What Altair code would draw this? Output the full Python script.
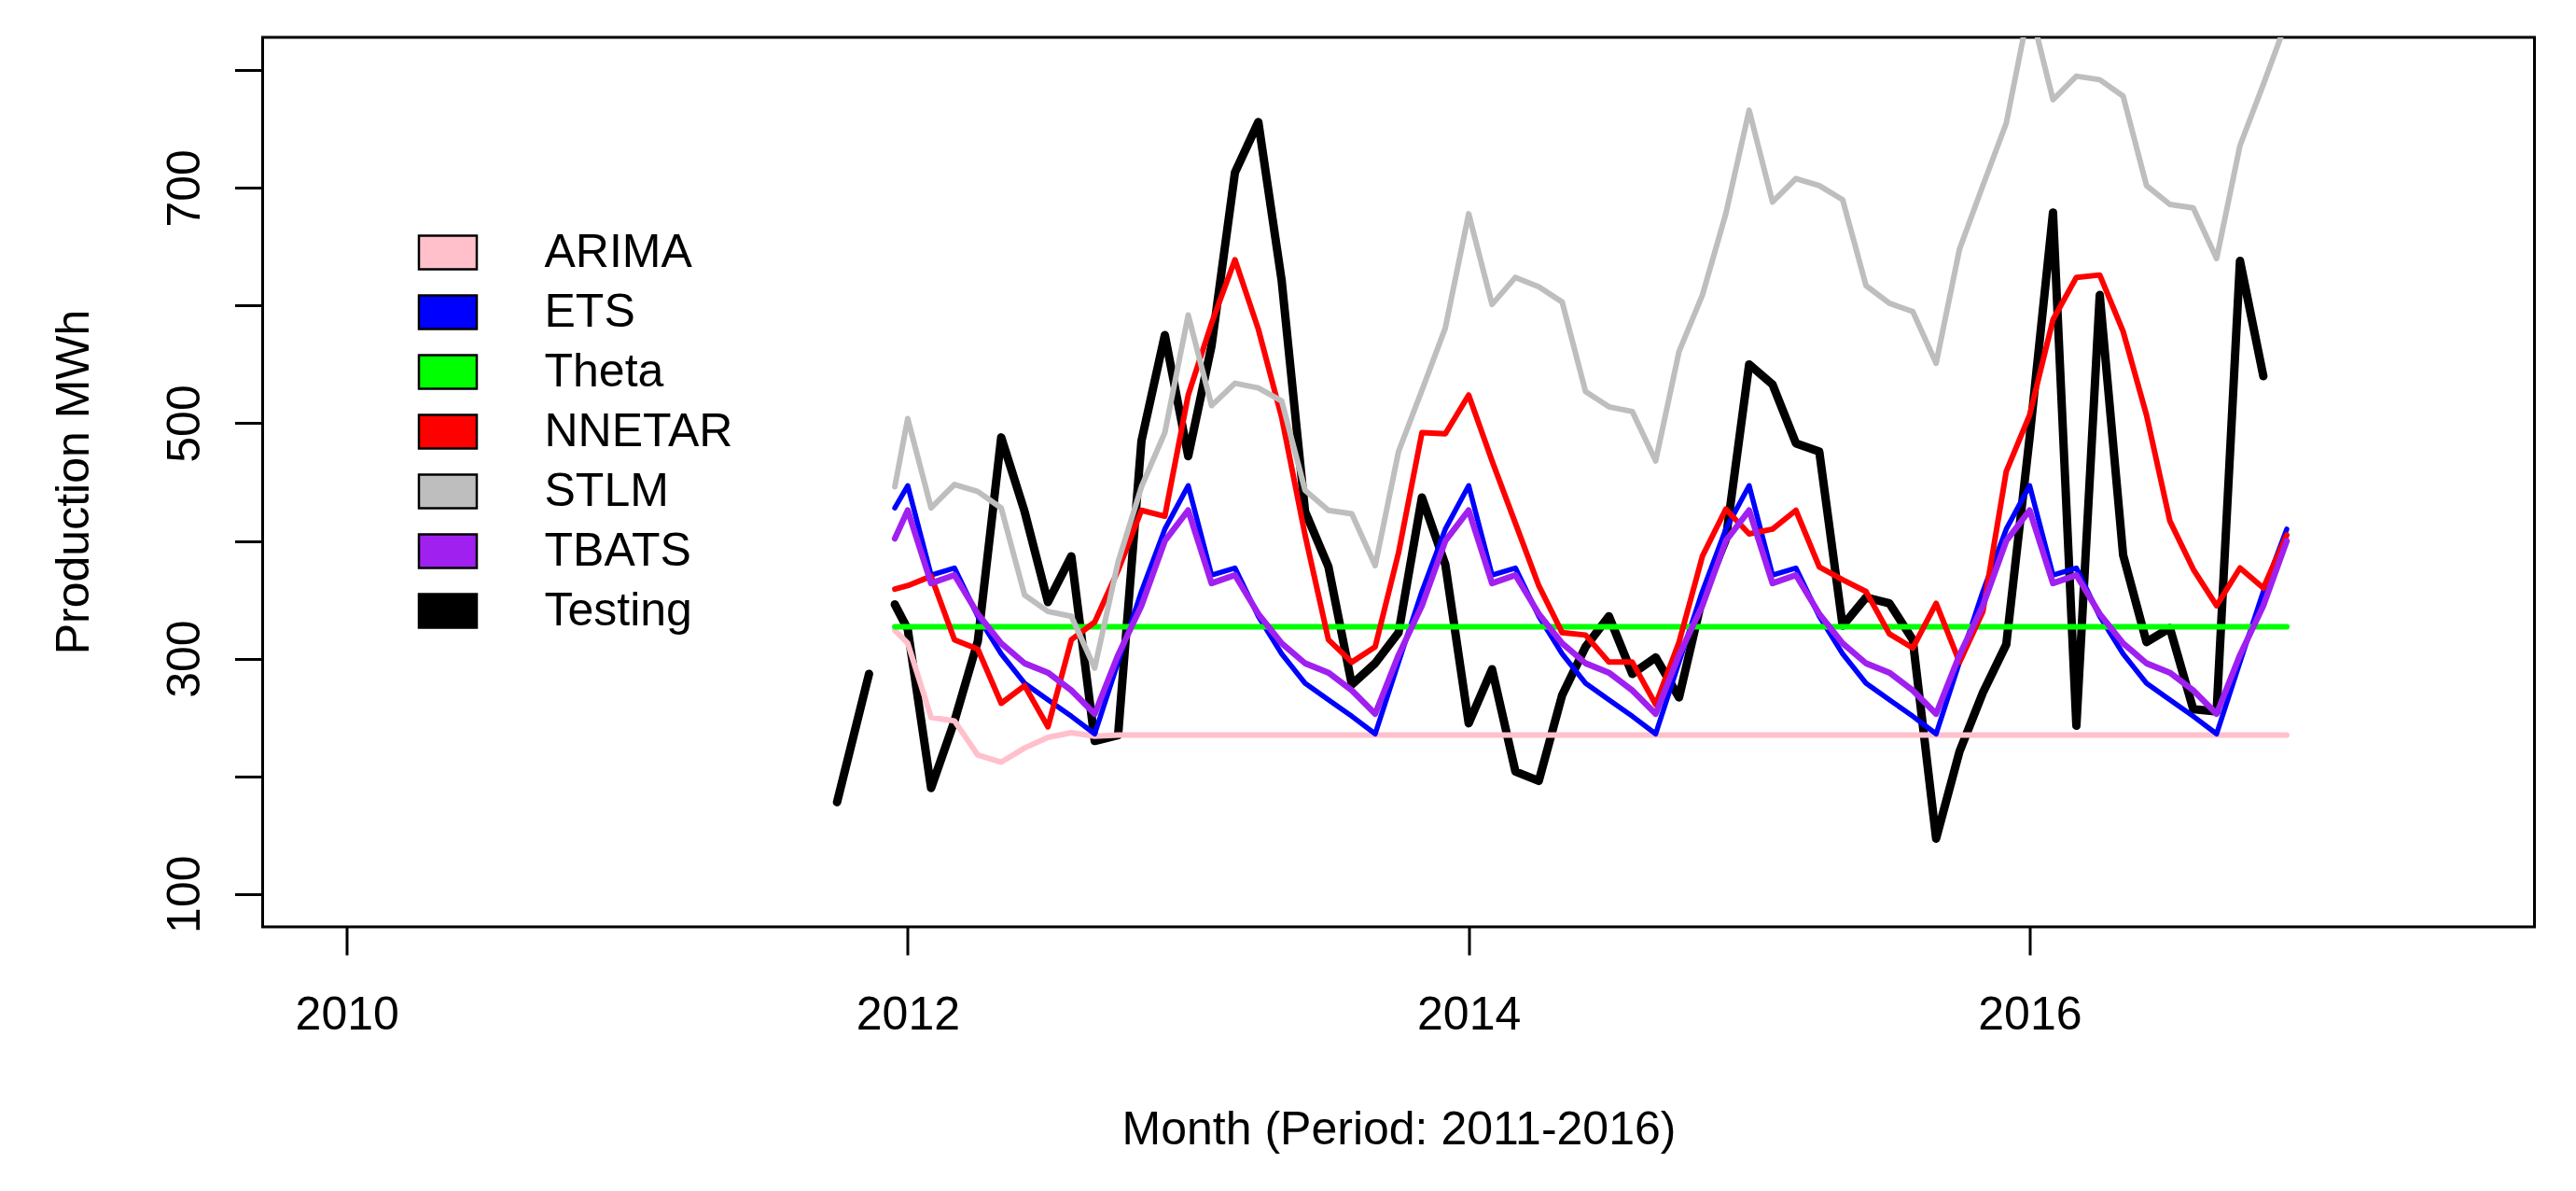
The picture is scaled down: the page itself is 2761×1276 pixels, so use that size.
import altair as alt
import pandas as pd

# ---------------- data ----------------
series_names = ["ARIMA", "ETS", "Theta", "NNETAR", "STLM", "TBATS", "Testing"]
series_colors = ["#FFC0CB", "#0000FF", "#00FF00", "#FF0000", "#BEBEBE", "#A020F0", "#000000"]

t_start = 2011.954          # where the forecast lines begin
t_end = 2016.917            # last forecast month (Dec 2016)

# Testing: short piece in late 2011, then monthly values from Jan 2012 to Nov 2016
testing_pre_t = [2011.748, 2011.862]
testing_pre_v = [178, 287]
testing_start_v = 346
testing_v = [325, 190, 247, 315, 488, 425, 348, 387, 230, 235, 485, 575,
             472, 566, 713, 756, 621, 425, 378, 278, 296, 322, 437, 380,
             245, 291, 204, 196, 269, 310, 336, 287, 301, 267, 352, 401,
             550, 533, 483, 476, 328, 352, 347, 316, 147, 221, 271, 312,
             488, 679, 243, 609, 388, 314, 326, 257, 255, 638, 540]

arima_start_v = 324
arima_v = [313, 250, 247, 218, 212, 224, 233, 237, 234, 235, 235, 235,
           235, 235, 235, 235, 235, 235, 235, 235, 235, 235, 235, 235,
           235, 235, 235, 235, 235, 235, 235, 235, 235, 235, 235, 235,
           235, 235, 235, 235, 235, 235, 235, 235, 235, 235, 235, 235,
           235, 235, 235, 235, 235, 235, 235, 235, 235, 235, 235, 235]

ets_start_v = 428
ets_v = [447, 371, 377, 336, 304, 279, 265, 251, 236, 297, 357, 410,
         447, 371, 377, 336, 304, 279, 265, 251, 236, 297, 357, 410,
         447, 371, 377, 336, 304, 279, 265, 251, 236, 297, 357, 410,
         447, 371, 377, 336, 304, 279, 265, 251, 236, 297, 357, 410,
         447, 371, 377, 336, 304, 279, 265, 251, 236, 297, 357, 410]

theta_t = [t_start, t_end]
theta_v = [327, 327]

nnetar_start_v = 359
nnetar_v = [362, 370, 316, 308, 262, 277, 242, 316, 331, 375, 426, 421,
            524, 585, 639, 580, 505, 405, 316, 297, 310, 390, 492, 491,
            524, 468, 415, 362, 322, 320, 297, 297, 261, 314, 387, 427,
            406, 410, 426, 378, 367, 357, 321, 309, 347, 297, 340, 459,
            507, 588, 624, 626, 578, 507, 417, 376, 345, 377, 360, 405]

stlm_start_v = 446
stlm_v = [504, 428, 448, 442, 428, 354, 340, 336, 292, 382, 446, 492,
          592, 515, 534, 530, 519, 443, 426, 423, 379, 476, 528, 581,
          678, 601, 624, 616, 603, 527, 514, 510, 468, 561, 609, 678,
          766, 688, 708, 702, 690, 617, 602, 595, 551, 648, 702, 755,
          855, 775, 795, 792, 778, 702, 686, 683, 640, 736, 788, 842]

tbats_start_v = 402
tbats_v = [426, 364, 371, 338, 313, 296, 288, 273, 253, 303, 345, 400,
           426, 364, 371, 338, 313, 296, 288, 273, 253, 303, 345, 400,
           426, 364, 371, 338, 313, 296, 288, 273, 253, 303, 345, 400,
           426, 364, 371, 338, 313, 296, 288, 273, 253, 303, 345, 400,
           426, 364, 371, 338, 313, 296, 288, 273, 253, 303, 345, 400]

x_ticks = [2010, 2012, 2014, 2016]
y_ticks = [100, 200, 300, 400, 500, 600, 700, 800]

# ---------------- build the long table ----------------
rows = []


def add(name, ts, vs, seg=0):
    for tt, vv in zip(ts, vs):
        rows.append({"series": name, "key": name, "t": tt, "v": vv, "seg": seg})


def monthly(start_v, vals):
    ts = [t_start] + [2012 + m / 12 for m in range(len(vals))]
    return ts, [start_v] + vals


add("Testing", testing_pre_t, testing_pre_v, seg=0)
add("Testing", *monthly(testing_start_v, testing_v), seg=1)
add("ARIMA", *monthly(arima_start_v, arima_v))
add("ETS", *monthly(ets_start_v, ets_v))
add("Theta", theta_t, theta_v)
add("NNETAR", *monthly(nnetar_start_v, nnetar_v))
add("STLM", *monthly(stlm_start_v, stlm_v))
add("TBATS", *monthly(tbats_start_v, tbats_v))
df = pd.DataFrame(rows)

FONT = "Liberation Sans, Arial, sans-serif"

x_enc = alt.X("t:Q",
              scale=alt.Scale(domain=[2009.7, 2017.8], nice=False, zero=False),
              axis=alt.Axis(values=x_ticks, format="d", title="Month (Period: 2011-2016)",
                            labelBaseline="alphabetic", labelPadding=79,
                            titleY=232, titleBaseline="alphabetic"))
y_enc = alt.Y("v:Q",
              scale=alt.Scale(domain=[72, 828], nice=False, zero=False),
              axis=alt.Axis(values=y_ticks, title="Production MWh",
                            labelExpr="datum.value % 200 == 100 ? datum.label : ''",
                            labelAngle=-90, labelAlign="center", labelBaseline="alphabetic",
                            labelPadding=38,
                            titleAngle=-90, titleAlign="center", titleBaseline="alphabetic",
                            titleX=-187, titleY=476))

rect_path = "M-1,-0.58L1,-0.58L1,0.58L-1,0.58Z"
legend = alt.Legend(orient="none", legendX=166, legendY=198, title=None,
                    symbolType=rect_path, symbolSize=3844,
                    symbolStrokeColor="black", symbolStrokeWidth=2.5, symbolOpacity=1,
                    labelFont=FONT, labelFontSize=50, labelColor="black", labelOffset=71,
                    labelLimit=0, rowPadding=6, padding=0)

widths = {"ARIMA": 6, "ETS": 5.5, "Theta": 6, "NNETAR": 6, "STLM": 6, "TBATS": 6.5, "Testing": 9}
# R draws the test series first, then each forecast on top of it
draw_order = ["Testing", "ARIMA", "ETS", "Theta", "NNETAR", "STLM", "TBATS"]

layers = []
for name in draw_order:
    layers.append(
        alt.Chart(df)
        .transform_filter(alt.datum.series == name)
        .mark_line(strokeWidth=widths[name], clip=True, strokeCap="round", strokeJoin="round")
        .encode(x=x_enc, y=y_enc,
                color=alt.Color("series:N", scale=alt.Scale(domain=series_names, range=series_colors),
                                legend=None),
                detail="seg:N")
    )

# invisible filled layer that only supplies the filled-box legend
legend_layer = (
    alt.Chart(df)
    .mark_point(filled=True, opacity=0, stroke="black", strokeWidth=2.5, clip=True)
    .encode(x=x_enc, y=y_enc,
            fill=alt.Fill("key:N", scale=alt.Scale(domain=series_names, range=series_colors),
                          legend=legend))
)

chart = (
    alt.layer(*layers, legend_layer)
    .resolve_scale(color="independent", fill="independent")
    .properties(width=2435, height=953,
                autosize=alt.AutoSizeParams(type="none"),
                padding={"left": 273.5, "top": 32, "right": 30, "bottom": 250},
                background="white")
    .configure_view(stroke="black", strokeWidth=3)
    .configure_axis(labelFont=FONT, labelFontSize=50, labelColor="black",
                    titleFont=FONT, titleFontSize=50, titleFontWeight="normal", titleColor="black",
                    tickColor="black", tickWidth=3, tickSize=30, domain=False, grid=False)
)

chart.save("out.html", embed_options={"renderer": "svg", "actions": False})
